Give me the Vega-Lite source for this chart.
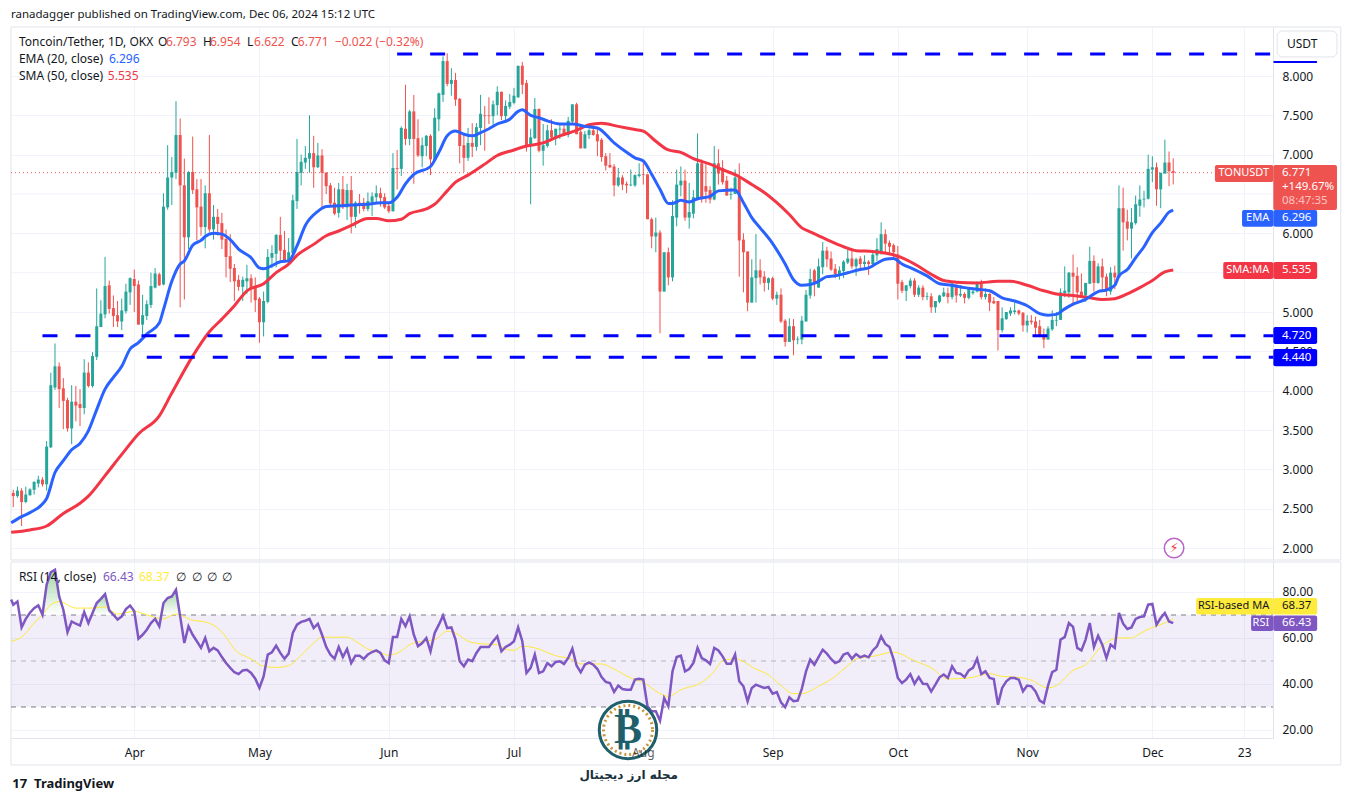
{
  "$schema": "https://vega.github.io/schema/vega-lite/v6.json",
  "background": "#ffffff",
  "padding": {"left": 5, "top": 9, "right": 0, "bottom": 0},
  "spacing": 0,
  "title": {"text": "ranadagger published on TradingView.com, Dec 06, 2024 15:12 UTC", "anchor": "start", "frame": "group", "fontSize": 11.5, "fontWeight": "normal", "color": "#131722", "offset": 6},
  "config": {"font": "Noto Sans", "view": {"stroke": null}},
  "datasets": {
    "candles": [
      {"d":"2024-03-03","o":2.70,"h":2.74,"l":2.52,"c":2.66},
      {"d":"2024-03-04","o":2.66,"h":2.78,"l":2.64,"c":2.73},
      {"d":"2024-03-05","o":2.73,"h":2.76,"l":2.28,"c":2.585},
      {"d":"2024-03-06","o":2.585,"h":2.78,"l":2.57,"c":2.68},
      {"d":"2024-03-07","o":2.67,"h":2.76,"l":2.67,"c":2.745},
      {"d":"2024-03-08","o":2.74,"h":2.85,"l":2.68,"c":2.84},
      {"d":"2024-03-09","o":2.82,"h":2.92,"l":2.77,"c":2.87},
      {"d":"2024-03-10","o":2.87,"h":2.90,"l":2.78,"c":2.81},
      {"d":"2024-03-11","o":2.81,"h":3.36,"l":2.73,"c":3.29},
      {"d":"2024-03-12","o":3.28,"h":4.23,"l":3.27,"c":4.07},
      {"d":"2024-03-13","o":4.04,"h":4.60,"l":4.01,"c":4.31},
      {"d":"2024-03-14","o":4.31,"h":4.36,"l":3.78,"c":4.02},
      {"d":"2024-03-15","o":4.03,"h":4.16,"l":3.51,"c":3.87},
      {"d":"2024-03-16","o":3.88,"h":3.91,"l":3.48,"c":3.52},
      {"d":"2024-03-17","o":3.52,"h":4.07,"l":3.32,"c":3.86},
      {"d":"2024-03-18","o":3.86,"h":4.06,"l":3.61,"c":3.81},
      {"d":"2024-03-19","o":3.83,"h":4.02,"l":3.55,"c":3.78},
      {"d":"2024-03-20","o":3.78,"h":4.40,"l":3.70,"c":4.23},
      {"d":"2024-03-21","o":4.23,"h":4.36,"l":4.04,"c":4.06},
      {"d":"2024-03-22","o":4.06,"h":4.49,"l":4.04,"c":4.44},
      {"d":"2024-03-23","o":4.43,"h":5.30,"l":4.39,"c":4.82},
      {"d":"2024-03-24","o":4.81,"h":5.15,"l":4.81,"c":4.98},
      {"d":"2024-03-25","o":4.97,"h":5.70,"l":4.92,"c":5.33},
      {"d":"2024-03-26","o":5.34,"h":5.40,"l":4.98,"c":5.04},
      {"d":"2024-03-27","o":5.05,"h":5.21,"l":4.81,"c":4.95},
      {"d":"2024-03-28","o":4.96,"h":5.14,"l":4.81,"c":4.88},
      {"d":"2024-03-29","o":4.88,"h":5.17,"l":4.77,"c":5.02},
      {"d":"2024-03-30","o":5.01,"h":5.36,"l":4.98,"c":5.26},
      {"d":"2024-03-31","o":5.25,"h":5.44,"l":5.09,"c":5.43},
      {"d":"2024-04-01","o":5.42,"h":5.54,"l":5.00,"c":5.33},
      {"d":"2024-04-02","o":5.35,"h":5.40,"l":4.84,"c":4.84},
      {"d":"2024-04-03","o":4.84,"h":5.22,"l":4.72,"c":4.96},
      {"d":"2024-04-04","o":4.95,"h":5.15,"l":4.90,"c":5.10},
      {"d":"2024-04-05","o":5.09,"h":5.50,"l":5.05,"c":5.33},
      {"d":"2024-04-06","o":5.31,"h":5.56,"l":5.30,"c":5.49},
      {"d":"2024-04-07","o":5.48,"h":5.50,"l":5.33,"c":5.34},
      {"d":"2024-04-08","o":5.35,"h":6.51,"l":5.34,"c":6.34},
      {"d":"2024-04-09","o":6.33,"h":7.12,"l":6.30,"c":6.71},
      {"d":"2024-04-10","o":6.71,"h":6.97,"l":6.36,"c":6.78},
      {"d":"2024-04-11","o":6.77,"h":7.68,"l":6.69,"c":7.25},
      {"d":"2024-04-12","o":7.25,"h":7.46,"l":5.06,"c":6.61},
      {"d":"2024-04-13","o":6.61,"h":6.95,"l":5.16,"c":5.95},
      {"d":"2024-04-14","o":5.95,"h":6.79,"l":5.80,"c":6.78},
      {"d":"2024-04-15","o":6.78,"h":7.23,"l":6.50,"c":6.55},
      {"d":"2024-04-16","o":6.56,"h":6.69,"l":5.91,"c":6.33},
      {"d":"2024-04-17","o":6.34,"h":6.69,"l":5.97,"c":6.08},
      {"d":"2024-04-18","o":6.08,"h":6.61,"l":5.81,"c":6.51},
      {"d":"2024-04-19","o":6.51,"h":7.25,"l":6.02,"c":6.05},
      {"d":"2024-04-20","o":6.05,"h":6.36,"l":5.92,"c":6.21},
      {"d":"2024-04-21","o":6.21,"h":6.31,"l":5.97,"c":6.12},
      {"d":"2024-04-22","o":6.13,"h":6.26,"l":5.80,"c":5.92},
      {"d":"2024-04-23","o":5.93,"h":6.05,"l":5.44,"c":5.70},
      {"d":"2024-04-24","o":5.71,"h":5.99,"l":5.38,"c":5.55},
      {"d":"2024-04-25","o":5.56,"h":5.61,"l":5.14,"c":5.39},
      {"d":"2024-04-26","o":5.41,"h":5.47,"l":5.27,"c":5.32},
      {"d":"2024-04-27","o":5.32,"h":5.45,"l":5.14,"c":5.41},
      {"d":"2024-04-28","o":5.39,"h":5.60,"l":5.23,"c":5.43},
      {"d":"2024-04-29","o":5.43,"h":5.48,"l":5.12,"c":5.29},
      {"d":"2024-04-30","o":5.32,"h":5.44,"l":5.00,"c":5.15},
      {"d":"2024-05-01","o":5.17,"h":5.19,"l":4.61,"c":4.87},
      {"d":"2024-05-02","o":4.87,"h":5.26,"l":4.69,"c":5.14},
      {"d":"2024-05-03","o":5.13,"h":5.80,"l":5.11,"c":5.70},
      {"d":"2024-05-04","o":5.69,"h":5.85,"l":5.56,"c":5.75},
      {"d":"2024-05-05","o":5.74,"h":5.99,"l":5.57,"c":5.98},
      {"d":"2024-05-06","o":5.98,"h":6.21,"l":5.65,"c":5.78},
      {"d":"2024-05-07","o":5.79,"h":6.03,"l":5.63,"c":5.65},
      {"d":"2024-05-08","o":5.65,"h":5.94,"l":5.62,"c":5.76},
      {"d":"2024-05-09","o":5.75,"h":6.49,"l":5.72,"c":6.42},
      {"d":"2024-05-10","o":6.41,"h":7.20,"l":6.31,"c":6.78},
      {"d":"2024-05-11","o":6.77,"h":7.00,"l":6.61,"c":6.91},
      {"d":"2024-05-12","o":6.90,"h":7.11,"l":6.82,"c":6.96},
      {"d":"2024-05-13","o":6.95,"h":7.50,"l":6.77,"c":7.02},
      {"d":"2024-05-14","o":7.02,"h":7.24,"l":6.58,"c":6.84},
      {"d":"2024-05-15","o":6.84,"h":7.15,"l":6.83,"c":6.99},
      {"d":"2024-05-16","o":6.99,"h":7.07,"l":6.33,"c":6.77},
      {"d":"2024-05-17","o":6.77,"h":6.78,"l":6.50,"c":6.60},
      {"d":"2024-05-18","o":6.61,"h":6.64,"l":6.34,"c":6.38},
      {"d":"2024-05-19","o":6.39,"h":6.58,"l":6.23,"c":6.25},
      {"d":"2024-05-20","o":6.26,"h":6.64,"l":6.20,"c":6.56},
      {"d":"2024-05-21","o":6.56,"h":6.73,"l":6.31,"c":6.33},
      {"d":"2024-05-22","o":6.33,"h":6.63,"l":6.17,"c":6.55},
      {"d":"2024-05-23","o":6.55,"h":6.73,"l":6.00,"c":6.21},
      {"d":"2024-05-24","o":6.21,"h":6.41,"l":6.07,"c":6.39},
      {"d":"2024-05-25","o":6.39,"h":6.50,"l":6.25,"c":6.36},
      {"d":"2024-05-26","o":6.39,"h":6.45,"l":6.28,"c":6.31},
      {"d":"2024-05-27","o":6.31,"h":6.52,"l":6.28,"c":6.41},
      {"d":"2024-05-28","o":6.40,"h":6.52,"l":6.22,"c":6.47},
      {"d":"2024-05-29","o":6.46,"h":6.61,"l":6.39,"c":6.51},
      {"d":"2024-05-30","o":6.51,"h":6.58,"l":6.34,"c":6.45},
      {"d":"2024-05-31","o":6.46,"h":6.51,"l":6.31,"c":6.33},
      {"d":"2024-06-01","o":6.35,"h":6.39,"l":6.26,"c":6.28},
      {"d":"2024-06-02","o":6.28,"h":7.02,"l":6.28,"c":6.83},
      {"d":"2024-06-03","o":6.83,"h":7.06,"l":6.56,"c":6.82},
      {"d":"2024-06-04","o":6.82,"h":7.36,"l":6.73,"c":7.34},
      {"d":"2024-06-05","o":7.33,"h":7.89,"l":7.12,"c":7.20},
      {"d":"2024-06-06","o":7.20,"h":7.57,"l":7.12,"c":7.55},
      {"d":"2024-06-07","o":7.55,"h":7.76,"l":6.63,"c":7.20},
      {"d":"2024-06-08","o":7.21,"h":7.45,"l":6.97,"c":6.99},
      {"d":"2024-06-09","o":6.98,"h":7.22,"l":6.84,"c":7.12},
      {"d":"2024-06-10","o":7.11,"h":7.25,"l":6.98,"c":7.24},
      {"d":"2024-06-11","o":7.24,"h":7.26,"l":6.74,"c":6.94},
      {"d":"2024-06-12","o":6.93,"h":7.59,"l":6.91,"c":7.47},
      {"d":"2024-06-13","o":7.45,"h":7.79,"l":7.30,"c":7.78},
      {"d":"2024-06-14","o":7.76,"h":8.25,"l":7.67,"c":8.19},
      {"d":"2024-06-15","o":8.19,"h":8.29,"l":7.87,"c":7.90},
      {"d":"2024-06-16","o":7.90,"h":8.10,"l":7.75,"c":7.95},
      {"d":"2024-06-17","o":7.95,"h":8.04,"l":7.62,"c":7.70},
      {"d":"2024-06-18","o":7.71,"h":7.72,"l":6.89,"c":7.11},
      {"d":"2024-06-19","o":7.12,"h":7.26,"l":6.78,"c":6.96},
      {"d":"2024-06-20","o":6.96,"h":7.34,"l":6.92,"c":7.15},
      {"d":"2024-06-21","o":7.15,"h":7.40,"l":6.97,"c":7.10},
      {"d":"2024-06-22","o":7.10,"h":7.40,"l":7.05,"c":7.35},
      {"d":"2024-06-23","o":7.34,"h":7.76,"l":7.12,"c":7.52},
      {"d":"2024-06-24","o":7.50,"h":7.62,"l":7.05,"c":7.49},
      {"d":"2024-06-25","o":7.50,"h":7.73,"l":7.39,"c":7.49},
      {"d":"2024-06-26","o":7.49,"h":7.69,"l":7.38,"c":7.64},
      {"d":"2024-06-27","o":7.63,"h":7.87,"l":7.50,"c":7.80},
      {"d":"2024-06-28","o":7.80,"h":7.80,"l":7.44,"c":7.49},
      {"d":"2024-06-29","o":7.49,"h":7.69,"l":7.44,"c":7.62},
      {"d":"2024-06-30","o":7.61,"h":7.77,"l":7.58,"c":7.67},
      {"d":"2024-07-01","o":7.66,"h":7.85,"l":7.64,"c":7.75},
      {"d":"2024-07-02","o":7.73,"h":8.13,"l":7.72,"c":8.13},
      {"d":"2024-07-03","o":8.13,"h":8.18,"l":7.77,"c":7.89},
      {"d":"2024-07-04","o":7.91,"h":7.95,"l":7.04,"c":7.11},
      {"d":"2024-07-05","o":7.11,"h":7.33,"l":6.37,"c":7.22},
      {"d":"2024-07-06","o":7.21,"h":7.72,"l":7.20,"c":7.58},
      {"d":"2024-07-07","o":7.58,"h":7.59,"l":7.03,"c":7.05},
      {"d":"2024-07-08","o":7.05,"h":7.39,"l":6.86,"c":7.12},
      {"d":"2024-07-09","o":7.11,"h":7.38,"l":7.09,"c":7.31},
      {"d":"2024-07-10","o":7.31,"h":7.45,"l":7.20,"c":7.22},
      {"d":"2024-07-11","o":7.21,"h":7.33,"l":7.12,"c":7.33},
      {"d":"2024-07-12","o":7.32,"h":7.40,"l":7.20,"c":7.33},
      {"d":"2024-07-13","o":7.33,"h":7.38,"l":7.24,"c":7.26},
      {"d":"2024-07-14","o":7.25,"h":7.48,"l":7.22,"c":7.43},
      {"d":"2024-07-15","o":7.42,"h":7.64,"l":7.40,"c":7.64},
      {"d":"2024-07-16","o":7.64,"h":7.66,"l":7.26,"c":7.26},
      {"d":"2024-07-17","o":7.29,"h":7.38,"l":7.08,"c":7.08},
      {"d":"2024-07-18","o":7.08,"h":7.30,"l":7.08,"c":7.26},
      {"d":"2024-07-19","o":7.25,"h":7.33,"l":7.20,"c":7.31},
      {"d":"2024-07-20","o":7.31,"h":7.36,"l":7.24,"c":7.25},
      {"d":"2024-07-21","o":7.26,"h":7.33,"l":6.98,"c":7.17},
      {"d":"2024-07-22","o":7.19,"h":7.21,"l":6.91,"c":6.97},
      {"d":"2024-07-23","o":6.98,"h":7.02,"l":6.80,"c":6.86},
      {"d":"2024-07-24","o":6.87,"h":7.02,"l":6.83,"c":6.84},
      {"d":"2024-07-25","o":6.85,"h":6.88,"l":6.47,"c":6.61},
      {"d":"2024-07-26","o":6.61,"h":6.83,"l":6.59,"c":6.71},
      {"d":"2024-07-27","o":6.71,"h":6.74,"l":6.55,"c":6.62},
      {"d":"2024-07-28","o":6.63,"h":6.66,"l":6.51,"c":6.61},
      {"d":"2024-07-29","o":6.61,"h":6.81,"l":6.60,"c":6.62},
      {"d":"2024-07-30","o":6.61,"h":6.75,"l":6.59,"c":6.74},
      {"d":"2024-07-31","o":6.73,"h":6.89,"l":6.71,"c":6.75},
      {"d":"2024-08-01","o":6.75,"h":6.90,"l":6.62,"c":6.74},
      {"d":"2024-08-02","o":6.75,"h":6.75,"l":6.18,"c":6.18},
      {"d":"2024-08-03","o":6.18,"h":6.20,"l":5.81,"c":5.96},
      {"d":"2024-08-04","o":5.96,"h":6.20,"l":5.76,"c":6.01},
      {"d":"2024-08-05","o":6.01,"h":6.04,"l":4.73,"c":5.26},
      {"d":"2024-08-06","o":5.26,"h":5.76,"l":5.26,"c":5.76},
      {"d":"2024-08-07","o":5.76,"h":5.82,"l":5.34,"c":5.44},
      {"d":"2024-08-08","o":5.44,"h":6.42,"l":5.39,"c":6.22},
      {"d":"2024-08-09","o":6.20,"h":6.81,"l":6.09,"c":6.62},
      {"d":"2024-08-10","o":6.61,"h":6.85,"l":6.47,"c":6.67},
      {"d":"2024-08-11","o":6.67,"h":6.81,"l":6.16,"c":6.20},
      {"d":"2024-08-12","o":6.20,"h":6.64,"l":6.06,"c":6.27},
      {"d":"2024-08-13","o":6.25,"h":6.55,"l":6.19,"c":6.46},
      {"d":"2024-08-14","o":6.45,"h":7.27,"l":6.42,"c":6.89},
      {"d":"2024-08-15","o":6.89,"h":6.94,"l":6.39,"c":6.46},
      {"d":"2024-08-16","o":6.60,"h":6.89,"l":6.39,"c":6.53},
      {"d":"2024-08-17","o":6.55,"h":6.60,"l":6.38,"c":6.43},
      {"d":"2024-08-18","o":6.43,"h":7.11,"l":6.42,"c":6.89},
      {"d":"2024-08-19","o":6.89,"h":7.07,"l":6.62,"c":6.76},
      {"d":"2024-08-20","o":6.83,"h":6.93,"l":6.62,"c":6.65},
      {"d":"2024-08-21","o":6.67,"h":6.73,"l":6.48,"c":6.48},
      {"d":"2024-08-22","o":6.49,"h":6.58,"l":6.43,"c":6.50},
      {"d":"2024-08-23","o":6.50,"h":6.81,"l":6.50,"c":6.71},
      {"d":"2024-08-24","o":6.71,"h":6.89,"l":5.45,"c":5.91},
      {"d":"2024-08-25","o":5.92,"h":6.00,"l":5.25,"c":5.76},
      {"d":"2024-08-26","o":5.77,"h":5.77,"l":5.01,"c":5.12},
      {"d":"2024-08-27","o":5.12,"h":5.67,"l":5.12,"c":5.44},
      {"d":"2024-08-28","o":5.43,"h":5.99,"l":5.12,"c":5.53},
      {"d":"2024-08-29","o":5.53,"h":5.67,"l":5.35,"c":5.44},
      {"d":"2024-08-30","o":5.45,"h":5.52,"l":5.26,"c":5.37},
      {"d":"2024-08-31","o":5.37,"h":5.44,"l":5.28,"c":5.43},
      {"d":"2024-09-01","o":5.43,"h":5.45,"l":5.15,"c":5.17},
      {"d":"2024-09-02","o":5.17,"h":5.26,"l":5.09,"c":5.22},
      {"d":"2024-09-03","o":5.22,"h":5.30,"l":4.86,"c":4.88},
      {"d":"2024-09-04","o":4.89,"h":4.91,"l":4.56,"c":4.62},
      {"d":"2024-09-05","o":4.62,"h":4.92,"l":4.62,"c":4.82},
      {"d":"2024-09-06","o":4.82,"h":4.91,"l":4.45,"c":4.64},
      {"d":"2024-09-07","o":4.65,"h":4.69,"l":4.59,"c":4.66},
      {"d":"2024-09-08","o":4.65,"h":4.95,"l":4.59,"c":4.89},
      {"d":"2024-09-09","o":4.88,"h":5.28,"l":4.88,"c":5.22},
      {"d":"2024-09-10","o":5.21,"h":5.55,"l":5.17,"c":5.42},
      {"d":"2024-09-11","o":5.53,"h":5.55,"l":5.20,"c":5.38},
      {"d":"2024-09-12","o":5.31,"h":5.68,"l":5.31,"c":5.58},
      {"d":"2024-09-13","o":5.57,"h":5.89,"l":5.48,"c":5.78},
      {"d":"2024-09-14","o":5.78,"h":5.83,"l":5.57,"c":5.67},
      {"d":"2024-09-15","o":5.68,"h":5.77,"l":5.52,"c":5.54},
      {"d":"2024-09-16","o":5.55,"h":5.61,"l":5.43,"c":5.48},
      {"d":"2024-09-17","o":5.47,"h":5.58,"l":5.41,"c":5.53},
      {"d":"2024-09-18","o":5.52,"h":5.66,"l":5.43,"c":5.64},
      {"d":"2024-09-19","o":5.63,"h":5.82,"l":5.61,"c":5.68},
      {"d":"2024-09-20","o":5.68,"h":5.80,"l":5.55,"c":5.58},
      {"d":"2024-09-21","o":5.58,"h":5.69,"l":5.46,"c":5.67},
      {"d":"2024-09-22","o":5.68,"h":5.71,"l":5.52,"c":5.61},
      {"d":"2024-09-23","o":5.61,"h":5.72,"l":5.55,"c":5.64},
      {"d":"2024-09-24","o":5.64,"h":5.66,"l":5.47,"c":5.61},
      {"d":"2024-09-25","o":5.61,"h":5.78,"l":5.57,"c":5.73},
      {"d":"2024-09-26","o":5.72,"h":5.94,"l":5.65,"c":5.80},
      {"d":"2024-09-27","o":5.75,"h":6.14,"l":5.73,"c":5.99},
      {"d":"2024-09-28","o":5.99,"h":6.05,"l":5.73,"c":5.87},
      {"d":"2024-09-29","o":5.88,"h":5.91,"l":5.73,"c":5.83},
      {"d":"2024-09-30","o":5.85,"h":5.87,"l":5.67,"c":5.76},
      {"d":"2024-10-01","o":5.73,"h":5.84,"l":5.16,"c":5.36},
      {"d":"2024-10-02","o":5.38,"h":5.41,"l":5.24,"c":5.27},
      {"d":"2024-10-03","o":5.27,"h":5.34,"l":5.14,"c":5.34},
      {"d":"2024-10-04","o":5.33,"h":5.43,"l":5.30,"c":5.40},
      {"d":"2024-10-05","o":5.40,"h":5.43,"l":5.19,"c":5.22},
      {"d":"2024-10-06","o":5.22,"h":5.34,"l":5.19,"c":5.31},
      {"d":"2024-10-07","o":5.31,"h":5.34,"l":5.15,"c":5.19},
      {"d":"2024-10-08","o":5.19,"h":5.25,"l":5.15,"c":5.20},
      {"d":"2024-10-09","o":5.20,"h":5.24,"l":4.99,"c":5.06},
      {"d":"2024-10-10","o":5.06,"h":5.14,"l":4.99,"c":5.14},
      {"d":"2024-10-11","o":5.13,"h":5.22,"l":5.11,"c":5.21},
      {"d":"2024-10-12","o":5.20,"h":5.31,"l":5.19,"c":5.25},
      {"d":"2024-10-13","o":5.24,"h":5.31,"l":5.11,"c":5.19},
      {"d":"2024-10-14","o":5.19,"h":5.39,"l":5.16,"c":5.36},
      {"d":"2024-10-15","o":5.33,"h":5.35,"l":5.12,"c":5.21},
      {"d":"2024-10-16","o":5.21,"h":5.34,"l":5.19,"c":5.23},
      {"d":"2024-10-17","o":5.23,"h":5.25,"l":5.11,"c":5.18},
      {"d":"2024-10-18","o":5.18,"h":5.31,"l":5.16,"c":5.30},
      {"d":"2024-10-19","o":5.24,"h":5.29,"l":5.22,"c":5.26},
      {"d":"2024-10-20","o":5.26,"h":5.39,"l":5.25,"c":5.36},
      {"d":"2024-10-21","o":5.36,"h":5.41,"l":5.16,"c":5.19},
      {"d":"2024-10-22","o":5.19,"h":5.30,"l":5.16,"c":5.23},
      {"d":"2024-10-23","o":5.23,"h":5.24,"l":5.01,"c":5.12},
      {"d":"2024-10-24","o":5.14,"h":5.19,"l":5.10,"c":5.11},
      {"d":"2024-10-25","o":5.14,"h":5.14,"l":4.51,"c":4.77},
      {"d":"2024-10-26","o":4.77,"h":5.06,"l":4.74,"c":4.92},
      {"d":"2024-10-27","o":4.91,"h":5.00,"l":4.90,"c":5.00},
      {"d":"2024-10-28","o":4.98,"h":5.06,"l":4.95,"c":5.02},
      {"d":"2024-10-29","o":5.00,"h":5.12,"l":4.97,"c":5.02},
      {"d":"2024-10-30","o":5.02,"h":5.03,"l":4.96,"c":4.98},
      {"d":"2024-10-31","o":4.99,"h":5.00,"l":4.75,"c":4.83},
      {"d":"2024-11-01","o":4.83,"h":4.96,"l":4.74,"c":4.89},
      {"d":"2024-11-02","o":4.89,"h":4.96,"l":4.84,"c":4.87},
      {"d":"2024-11-03","o":4.88,"h":4.94,"l":4.68,"c":4.80},
      {"d":"2024-11-04","o":4.82,"h":4.90,"l":4.68,"c":4.69},
      {"d":"2024-11-05","o":4.70,"h":4.79,"l":4.54,"c":4.65},
      {"d":"2024-11-06","o":4.65,"h":4.82,"l":4.65,"c":4.79},
      {"d":"2024-11-07","o":4.78,"h":5.02,"l":4.76,"c":4.90},
      {"d":"2024-11-08","o":4.89,"h":5.00,"l":4.82,"c":4.90},
      {"d":"2024-11-09","o":4.90,"h":5.30,"l":4.90,"c":5.25},
      {"d":"2024-11-10","o":5.24,"h":5.58,"l":5.19,"c":5.27},
      {"d":"2024-11-11","o":5.25,"h":5.51,"l":5.18,"c":5.50},
      {"d":"2024-11-12","o":5.50,"h":5.73,"l":5.08,"c":5.45},
      {"d":"2024-11-13","o":5.46,"h":5.57,"l":5.12,"c":5.25},
      {"d":"2024-11-14","o":5.26,"h":5.49,"l":5.18,"c":5.21},
      {"d":"2024-11-15","o":5.21,"h":5.37,"l":5.13,"c":5.37},
      {"d":"2024-11-16","o":5.36,"h":5.83,"l":5.36,"c":5.65},
      {"d":"2024-11-17","o":5.65,"h":5.72,"l":5.26,"c":5.37},
      {"d":"2024-11-18","o":5.37,"h":5.62,"l":5.36,"c":5.58},
      {"d":"2024-11-19","o":5.58,"h":5.68,"l":5.28,"c":5.44},
      {"d":"2024-11-20","o":5.45,"h":5.49,"l":5.20,"c":5.27},
      {"d":"2024-11-21","o":5.26,"h":5.57,"l":5.22,"c":5.50},
      {"d":"2024-11-22","o":5.50,"h":5.59,"l":5.29,"c":5.44},
      {"d":"2024-11-23","o":5.44,"h":6.61,"l":5.44,"c":6.32},
      {"d":"2024-11-24","o":6.32,"h":6.58,"l":5.78,"c":6.14},
      {"d":"2024-11-25","o":6.15,"h":6.30,"l":5.91,"c":6.06},
      {"d":"2024-11-26","o":6.06,"h":6.32,"l":5.68,"c":6.14},
      {"d":"2024-11-27","o":6.13,"h":6.48,"l":6.11,"c":6.37},
      {"d":"2024-11-28","o":6.35,"h":6.61,"l":6.21,"c":6.43},
      {"d":"2024-11-29","o":6.43,"h":6.54,"l":6.33,"c":6.44},
      {"d":"2024-11-30","o":6.44,"h":7.00,"l":6.43,"c":6.82},
      {"d":"2024-12-01","o":6.81,"h":6.98,"l":6.65,"c":6.84},
      {"d":"2024-12-02","o":6.84,"h":6.90,"l":6.35,"c":6.56},
      {"d":"2024-12-03","o":6.56,"h":6.77,"l":6.32,"c":6.77},
      {"d":"2024-12-04","o":6.76,"h":7.19,"l":6.76,"c":6.90},
      {"d":"2024-12-05","o":6.90,"h":7.04,"l":6.60,"c":6.79},
      {"d":"2024-12-06","o":6.793,"h":6.954,"l":6.622,"c":6.771}
    ],
    "ema": [
      {"d":"2024-03-02T12:00:00Z","v":2.32},{"d":"2024-03-05","v":2.40},{"d":"2024-03-07","v":2.45},{"d":"2024-03-10","v":2.56},{"d":"2024-03-11","v":2.63},{"d":"2024-03-13","v":2.96},{"d":"2024-03-15","v":3.11},{"d":"2024-03-17","v":3.25},{"d":"2024-03-19","v":3.33},{"d":"2024-03-21","v":3.49},{"d":"2024-03-23","v":3.76},{"d":"2024-03-25","v":4.02},{"d":"2024-03-27","v":4.17},{"d":"2024-03-29","v":4.31},{"d":"2024-03-31","v":4.53},{"d":"2024-04-02","v":4.61},{"d":"2024-04-04","v":4.72},{"d":"2024-04-07","v":4.86},{"d":"2024-04-08","v":5.03},{"d":"2024-04-10","v":5.39},{"d":"2024-04-12","v":5.61},{"d":"2024-04-13","v":5.65},{"d":"2024-04-15","v":5.85},{"d":"2024-04-17","v":5.91},{"d":"2024-04-18","v":5.96},{"d":"2024-04-20","v":6.00},{"d":"2024-04-22","v":5.99},{"d":"2024-04-24","v":5.92},{"d":"2024-04-26","v":5.80},{"d":"2024-04-29","v":5.69},{"d":"2024-05-01","v":5.56},{"d":"2024-05-02","v":5.55},{"d":"2024-05-04","v":5.59},{"d":"2024-05-06","v":5.64},{"d":"2024-05-08","v":5.65},{"d":"2024-05-10","v":5.84},{"d":"2024-05-12","v":6.10},{"d":"2024-05-15","v":6.28},{"d":"2024-05-17","v":6.34},{"d":"2024-05-20","v":6.35},{"d":"2024-05-23","v":6.36},{"d":"2024-05-27","v":6.37},{"d":"2024-05-30","v":6.39},{"d":"2024-06-01","v":6.39},{"d":"2024-06-03","v":6.46},{"d":"2024-06-05","v":6.63},{"d":"2024-06-07","v":6.75},{"d":"2024-06-11","v":6.85},{"d":"2024-06-13","v":7.03},{"d":"2024-06-15","v":7.24},{"d":"2024-06-17","v":7.30},{"d":"2024-06-19","v":7.26},{"d":"2024-06-21","v":7.24},{"d":"2024-06-23","v":7.28},{"d":"2024-06-25","v":7.33},{"d":"2024-06-27","v":7.39},{"d":"2024-06-30","v":7.45},{"d":"2024-07-02","v":7.55},{"d":"2024-07-03","v":7.57},{"d":"2024-07-05","v":7.50},{"d":"2024-07-07","v":7.47},{"d":"2024-07-09","v":7.43},{"d":"2024-07-12","v":7.39},{"d":"2024-07-15","v":7.39},{"d":"2024-07-18","v":7.36},{"d":"2024-07-21","v":7.34},{"d":"2024-07-25","v":7.15},{"d":"2024-07-28","v":7.03},{"d":"2024-07-30","v":6.96},{"d":"2024-08-01","v":6.92},{"d":"2024-08-03","v":6.75},{"d":"2024-08-05","v":6.56},{"d":"2024-08-07","v":6.38},{"d":"2024-08-08","v":6.38},{"d":"2024-08-10","v":6.42},{"d":"2024-08-12","v":6.40},{"d":"2024-08-14","v":6.44},{"d":"2024-08-17","v":6.47},{"d":"2024-08-19","v":6.54},{"d":"2024-08-23","v":6.55},{"d":"2024-08-25","v":6.39},{"d":"2024-08-27","v":6.20},{"d":"2024-08-29","v":6.07},{"d":"2024-09-01","v":5.87},{"d":"2024-09-04","v":5.61},{"d":"2024-09-06","v":5.41},{"d":"2024-09-08","v":5.34},{"d":"2024-09-10","v":5.35},{"d":"2024-09-12","v":5.39},{"d":"2024-09-14","v":5.45},{"d":"2024-09-16","v":5.46},{"d":"2024-09-19","v":5.50},{"d":"2024-09-22","v":5.54},{"d":"2024-09-24","v":5.56},{"d":"2024-09-26","v":5.62},{"d":"2024-09-28","v":5.67},{"d":"2024-09-30","v":5.68},{"d":"2024-10-02","v":5.61},{"d":"2024-10-05","v":5.54},{"d":"2024-10-08","v":5.46},{"d":"2024-10-11","v":5.36},{"d":"2024-10-14","v":5.34},{"d":"2024-10-17","v":5.31},{"d":"2024-10-20","v":5.29},{"d":"2024-10-23","v":5.27},{"d":"2024-10-26","v":5.18},{"d":"2024-10-29","v":5.14},{"d":"2024-11-01","v":5.08},{"d":"2024-11-04","v":4.98},{"d":"2024-11-06","v":4.96},{"d":"2024-11-08","v":4.97},{"d":"2024-11-10","v":5.04},{"d":"2024-11-12","v":5.10},{"d":"2024-11-15","v":5.16},{"d":"2024-11-18","v":5.26},{"d":"2024-11-20","v":5.28},{"d":"2024-11-22","v":5.34},{"d":"2024-11-23","v":5.46},{"d":"2024-11-25","v":5.54},{"d":"2024-11-27","v":5.69},{"d":"2024-11-29","v":5.83},{"d":"2024-12-01","v":6.01},{"d":"2024-12-03","v":6.13},{"d":"2024-12-05","v":6.27},{"d":"2024-12-06","v":6.296}
    ],
    "sma": [
      {"d":"2024-03-02T12:00:00Z","v":2.20},{"d":"2024-03-07","v":2.23},{"d":"2024-03-11","v":2.28},{"d":"2024-03-15","v":2.44},{"d":"2024-03-19","v":2.57},{"d":"2024-03-21","v":2.66},{"d":"2024-03-25","v":2.92},{"d":"2024-03-29","v":3.19},{"d":"2024-04-02","v":3.45},{"d":"2024-04-07","v":3.68},{"d":"2024-04-10","v":3.97},{"d":"2024-04-15","v":4.44},{"d":"2024-04-19","v":4.75},{"d":"2024-04-22","v":4.91},{"d":"2024-04-25","v":5.08},{"d":"2024-04-28","v":5.27},{"d":"2024-05-02","v":5.36},{"d":"2024-05-05","v":5.50},{"d":"2024-05-08","v":5.61},{"d":"2024-05-10","v":5.72},{"d":"2024-05-14","v":5.86},{"d":"2024-05-17","v":5.97},{"d":"2024-05-20","v":6.03},{"d":"2024-05-23","v":6.10},{"d":"2024-05-27","v":6.19},{"d":"2024-05-29","v":6.19},{"d":"2024-06-01","v":6.16},{"d":"2024-06-04","v":6.18},{"d":"2024-06-06","v":6.25},{"d":"2024-06-10","v":6.31},{"d":"2024-06-12","v":6.37},{"d":"2024-06-15","v":6.54},{"d":"2024-06-17","v":6.65},{"d":"2024-06-20","v":6.74},{"d":"2024-06-24","v":6.88},{"d":"2024-06-27","v":6.99},{"d":"2024-07-01","v":7.06},{"d":"2024-07-04","v":7.11},{"d":"2024-07-08","v":7.15},{"d":"2024-07-12","v":7.24},{"d":"2024-07-16","v":7.31},{"d":"2024-07-19","v":7.38},{"d":"2024-07-22","v":7.40},{"d":"2024-07-26","v":7.36},{"d":"2024-07-30","v":7.32},{"d":"2024-08-01","v":7.30},{"d":"2024-08-04","v":7.17},{"d":"2024-08-07","v":7.06},{"d":"2024-08-10","v":7.03},{"d":"2024-08-13","v":6.95},{"d":"2024-08-17","v":6.88},{"d":"2024-08-20","v":6.81},{"d":"2024-08-24","v":6.72},{"d":"2024-08-27","v":6.62},{"d":"2024-08-30","v":6.52},{"d":"2024-09-02","v":6.39},{"d":"2024-09-05","v":6.24},{"d":"2024-09-08","v":6.07},{"d":"2024-09-10","v":6.02},{"d":"2024-09-14","v":5.92},{"d":"2024-09-18","v":5.83},{"d":"2024-09-21","v":5.78},{"d":"2024-09-25","v":5.77},{"d":"2024-09-28","v":5.75},{"d":"2024-10-01","v":5.71},{"d":"2024-10-05","v":5.61},{"d":"2024-10-09","v":5.48},{"d":"2024-10-12","v":5.40},{"d":"2024-10-15","v":5.38},{"d":"2024-10-20","v":5.37},{"d":"2024-10-25","v":5.39},{"d":"2024-10-28","v":5.39},{"d":"2024-11-01","v":5.34},{"d":"2024-11-05","v":5.27},{"d":"2024-11-08","v":5.23},{"d":"2024-11-12","v":5.21},{"d":"2024-11-16","v":5.18},{"d":"2024-11-19","v":5.16},{"d":"2024-11-22","v":5.17},{"d":"2024-11-25","v":5.23},{"d":"2024-11-28","v":5.31},{"d":"2024-12-01","v":5.40},{"d":"2024-12-04","v":5.51},{"d":"2024-12-06","v":5.535}
    ],
    "rsi": [
      {"d":"2024-03-02T12:00:00Z","v":76.7},{"d":"2024-03-03","v":74.5},{"d":"2024-03-04","v":75.9},{"d":"2024-03-05","v":64.6},{"d":"2024-03-06","v":68.3},{"d":"2024-03-07","v":71},{"d":"2024-03-08","v":73},{"d":"2024-03-09","v":74.2},{"d":"2024-03-10","v":70.1},{"d":"2024-03-11","v":83.2},{"d":"2024-03-12","v":88.6},{"d":"2024-03-13","v":89.7},{"d":"2024-03-14","v":78.1},{"d":"2024-03-15","v":72.3},{"d":"2024-03-16","v":62.5},{"d":"2024-03-17","v":67.2},{"d":"2024-03-18","v":66.2},{"d":"2024-03-19","v":65.4},{"d":"2024-03-20","v":71.3},{"d":"2024-03-21","v":66.5},{"d":"2024-03-22","v":70.9},{"d":"2024-03-23","v":75.2},{"d":"2024-03-24","v":77},{"d":"2024-03-25","v":79.1},{"d":"2024-03-26","v":72},{"d":"2024-03-27","v":70.1},{"d":"2024-03-28","v":68},{"d":"2024-03-29","v":69.4},{"d":"2024-03-30","v":72.6},{"d":"2024-03-31","v":74.1},
      {"d":"2024-04-01","v":71.6},{"d":"2024-04-02","v":59.7},{"d":"2024-04-03","v":61.4},{"d":"2024-04-04","v":63.6},{"d":"2024-04-05","v":66.5},{"d":"2024-04-06","v":68.3},{"d":"2024-04-07","v":65.1},{"d":"2024-04-08","v":75.2},{"d":"2024-04-09","v":77.4},{"d":"2024-04-10","v":78.1},{"d":"2024-04-11","v":81},{"d":"2024-04-12","v":69.4},{"d":"2024-04-13","v":57.8},{"d":"2024-04-14","v":65.1},{"d":"2024-04-15","v":61.4},{"d":"2024-04-16","v":58.6},{"d":"2024-04-17","v":55.7},{"d":"2024-04-18","v":60},{"d":"2024-04-19","v":54.2},{"d":"2024-04-20","v":55.7},{"d":"2024-04-21","v":54.6},{"d":"2024-04-22","v":51.7},{"d":"2024-04-23","v":49.1},{"d":"2024-04-24","v":47},{"d":"2024-04-25","v":45.1},{"d":"2024-04-26","v":44.3},{"d":"2024-04-27","v":45.9},{"d":"2024-04-28","v":46.2},{"d":"2024-04-29","v":44.8},{"d":"2024-04-30","v":42.3},
      {"d":"2024-05-01","v":38.3},{"d":"2024-05-02","v":43.3},{"d":"2024-05-03","v":52.8},{"d":"2024-05-04","v":53.8},{"d":"2024-05-05","v":56.7},{"d":"2024-05-06","v":53.5},{"d":"2024-05-07","v":51},{"d":"2024-05-08","v":53.2},{"d":"2024-05-09","v":62.2},{"d":"2024-05-10","v":65.8},{"d":"2024-05-11","v":67},{"d":"2024-05-12","v":67.5},{"d":"2024-05-13","v":68.3},{"d":"2024-05-14","v":64.3},{"d":"2024-05-15","v":66.2},{"d":"2024-05-16","v":61.4},{"d":"2024-05-17","v":56.1},{"d":"2024-05-18","v":52.8},{"d":"2024-05-19","v":51},{"d":"2024-05-20","v":56.1},{"d":"2024-05-21","v":51.7},{"d":"2024-05-22","v":55.2},{"d":"2024-05-23","v":49.1},{"d":"2024-05-24","v":52.3},{"d":"2024-05-25","v":52.3},{"d":"2024-05-26","v":50.9},{"d":"2024-05-27","v":52.8},{"d":"2024-05-28","v":53.9},{"d":"2024-05-29","v":54.6},{"d":"2024-05-30","v":53.5},{"d":"2024-05-31","v":50.3},
      {"d":"2024-06-01","v":49.1},{"d":"2024-06-02","v":60.4},{"d":"2024-06-03","v":60.4},{"d":"2024-06-04","v":68.3},{"d":"2024-06-05","v":65.1},{"d":"2024-06-06","v":69.4},{"d":"2024-06-07","v":61.4},{"d":"2024-06-08","v":56.4},{"d":"2024-06-09","v":57.8},{"d":"2024-06-10","v":60},{"d":"2024-06-11","v":54.2},{"d":"2024-06-12","v":62.2},{"d":"2024-06-13","v":65.8},{"d":"2024-06-14","v":69.7},{"d":"2024-06-15","v":64.3},{"d":"2024-06-16","v":64.6},{"d":"2024-06-17","v":59.3},{"d":"2024-06-18","v":49.9},{"d":"2024-06-19","v":47.7},{"d":"2024-06-20","v":50.6},{"d":"2024-06-21","v":49.9},{"d":"2024-06-22","v":53.5},{"d":"2024-06-23","v":56.1},{"d":"2024-06-24","v":56.1},{"d":"2024-06-25","v":56.1},{"d":"2024-06-26","v":58.6},{"d":"2024-06-27","v":60.7},{"d":"2024-06-28","v":54.2},{"d":"2024-06-29","v":56.1},{"d":"2024-06-30","v":57.1},
      {"d":"2024-07-01","v":58.6},{"d":"2024-07-02","v":64.6},{"d":"2024-07-03","v":58.6},{"d":"2024-07-04","v":44.8},{"d":"2024-07-05","v":47},{"d":"2024-07-06","v":52.8},{"d":"2024-07-07","v":44.8},{"d":"2024-07-08","v":45.5},{"d":"2024-07-09","v":49.1},{"d":"2024-07-10","v":47.7},{"d":"2024-07-11","v":49.6},{"d":"2024-07-12","v":49.9},{"d":"2024-07-13","v":48.7},{"d":"2024-07-14","v":51.3},{"d":"2024-07-15","v":55.4},{"d":"2024-07-16","v":48},{"d":"2024-07-17","v":45.1},{"d":"2024-07-18","v":48.4},{"d":"2024-07-19","v":49.4},{"d":"2024-07-20","v":48.4},{"d":"2024-07-21","v":46.5},{"d":"2024-07-22","v":43},{"d":"2024-07-23","v":40.9},{"d":"2024-07-24","v":40.4},{"d":"2024-07-25","v":36.5},{"d":"2024-07-26","v":39.3},{"d":"2024-07-27","v":37.8},{"d":"2024-07-28","v":37.5},{"d":"2024-07-29","v":37.5},{"d":"2024-07-30","v":41.9},{"d":"2024-07-31","v":42.3},
      {"d":"2024-08-01","v":41.9},{"d":"2024-08-02","v":30.3},{"d":"2024-08-03","v":28.1},{"d":"2024-08-04","v":28.1},{"d":"2024-08-05","v":24},{"d":"2024-08-06","v":33.9},{"d":"2024-08-07","v":30.3},{"d":"2024-08-08","v":45.5},{"d":"2024-08-09","v":51.7},{"d":"2024-08-10","v":52.3},{"d":"2024-08-11","v":45.5},{"d":"2024-08-12","v":46.5},{"d":"2024-08-13","v":49.1},{"d":"2024-08-14","v":55.7},{"d":"2024-08-15","v":51.3},{"d":"2024-08-16","v":50.3},{"d":"2024-08-17","v":48.7},{"d":"2024-08-18","v":55.7},{"d":"2024-08-19","v":54.6},{"d":"2024-08-20","v":52},{"d":"2024-08-21","v":48.8},{"d":"2024-08-22","v":48.8},{"d":"2024-08-23","v":52.8},{"d":"2024-08-24","v":41.2},{"d":"2024-08-25","v":39},{"d":"2024-08-26","v":32.5},{"d":"2024-08-27","v":38.3},{"d":"2024-08-28","v":39.7},{"d":"2024-08-29","v":39},{"d":"2024-08-30","v":38.3},{"d":"2024-08-31","v":38.7},
      {"d":"2024-09-01","v":35.8},{"d":"2024-09-02","v":36.5},{"d":"2024-09-03","v":32},{"d":"2024-09-04","v":29.9},{"d":"2024-09-05","v":34.2},{"d":"2024-09-06","v":32.5},{"d":"2024-09-07","v":32.8},{"d":"2024-09-08","v":38},{"d":"2024-09-09","v":45.5},{"d":"2024-09-10","v":50.6},{"d":"2024-09-11","v":48.4},{"d":"2024-09-12","v":51.7},{"d":"2024-09-13","v":54.9},{"d":"2024-09-14","v":53.2},{"d":"2024-09-15","v":50.9},{"d":"2024-09-16","v":49.1},{"d":"2024-09-17","v":49.9},{"d":"2024-09-18","v":52.8},{"d":"2024-09-19","v":53.5},{"d":"2024-09-20","v":51},{"d":"2024-09-21","v":53},{"d":"2024-09-22","v":51.6},{"d":"2024-09-23","v":52.3},{"d":"2024-09-24","v":51.6},{"d":"2024-09-25","v":54.6},{"d":"2024-09-26","v":56.4},{"d":"2024-09-27","v":60.7},{"d":"2024-09-28","v":57.4},{"d":"2024-09-29","v":56.1},{"d":"2024-09-30","v":50.6},
      {"d":"2024-10-01","v":42.6},{"d":"2024-10-02","v":40.4},{"d":"2024-10-03","v":41.9},{"d":"2024-10-04","v":44.3},{"d":"2024-10-05","v":40.1},{"d":"2024-10-06","v":43},{"d":"2024-10-07","v":40.1},{"d":"2024-10-08","v":40},{"d":"2024-10-09","v":36.7},{"d":"2024-10-10","v":39.7},{"d":"2024-10-11","v":42.9},{"d":"2024-10-12","v":44.1},{"d":"2024-10-13","v":42.6},{"d":"2024-10-14","v":47.7},{"d":"2024-10-15","v":44.8},{"d":"2024-10-16","v":44.5},{"d":"2024-10-17","v":43},{"d":"2024-10-18","v":45.9},{"d":"2024-10-19","v":47},{"d":"2024-10-20","v":51},{"d":"2024-10-21","v":44.3},{"d":"2024-10-22","v":45.5},{"d":"2024-10-23","v":42.6},{"d":"2024-10-24","v":42.2},{"d":"2024-10-25","v":31},{"d":"2024-10-26","v":38.3},{"d":"2024-10-27","v":41.2},{"d":"2024-10-28","v":42.6},{"d":"2024-10-29","v":42.6},{"d":"2024-10-30","v":41.9},{"d":"2024-10-31","v":36.8},
      {"d":"2024-11-01","v":39.3},{"d":"2024-11-02","v":39},{"d":"2024-11-03","v":36.8},{"d":"2024-11-04","v":32.8},{"d":"2024-11-05","v":31.7},{"d":"2024-11-06","v":39.3},{"d":"2024-11-07","v":45.2},{"d":"2024-11-08","v":46.2},{"d":"2024-11-09","v":59.3},{"d":"2024-11-10","v":60.4},{"d":"2024-11-11","v":66.5},{"d":"2024-11-12","v":64.8},{"d":"2024-11-13","v":55.7},{"d":"2024-11-14","v":54.6},{"d":"2024-11-15","v":59.3},{"d":"2024-11-16","v":66.5},{"d":"2024-11-17","v":56.1},{"d":"2024-11-18","v":61},{"d":"2024-11-19","v":57.1},{"d":"2024-11-20","v":51.3},{"d":"2024-11-21","v":57.1},{"d":"2024-11-22","v":55.7},{"d":"2024-11-23","v":70.9},{"d":"2024-11-24","v":66.2},{"d":"2024-11-25","v":63.9},{"d":"2024-11-26","v":64.6},{"d":"2024-11-27","v":68.3},{"d":"2024-11-28","v":69.1},{"d":"2024-11-29","v":69.4},{"d":"2024-11-30","v":74.5},
      {"d":"2024-12-01","v":74.8},{"d":"2024-12-02","v":65.8},{"d":"2024-12-03","v":68.7},{"d":"2024-12-04","v":70.9},{"d":"2024-12-05","v":67.2},{"d":"2024-12-06","v":66.43}
    ],
    "rsiMa": [
      {"d":"2024-03-02T12:00:00Z","v":58.6},{"d":"2024-03-05","v":60.4},{"d":"2024-03-08","v":66.5},{"d":"2024-03-10","v":70.1},{"d":"2024-03-12","v":74.5},{"d":"2024-03-14","v":75.8},{"d":"2024-03-18","v":73},{"d":"2024-03-22","v":73},{"d":"2024-03-25","v":73.5},{"d":"2024-03-28","v":70.4},{"d":"2024-04-01","v":71.6},{"d":"2024-04-04","v":70.1},{"d":"2024-04-08","v":68.3},{"d":"2024-04-11","v":70.4},{"d":"2024-04-15","v":67.7},{"d":"2024-04-18","v":67},{"d":"2024-04-21","v":64.3},{"d":"2024-04-23","v":60.4},{"d":"2024-04-25","v":55.2},{"d":"2024-04-29","v":50.9},{"d":"2024-05-02","v":47.7},{"d":"2024-05-05","v":47.2},{"d":"2024-05-08","v":48},{"d":"2024-05-11","v":52.5},{"d":"2024-05-14","v":57.8},{"d":"2024-05-16","v":60.4},{"d":"2024-05-19","v":60.3},{"d":"2024-05-22","v":60.4},{"d":"2024-05-24","v":58.6},{"d":"2024-05-27","v":55.2},{"d":"2024-05-30","v":53.5},{"d":"2024-06-01","v":52.5},{"d":"2024-06-04","v":54.4},{"d":"2024-06-06","v":57.1},{"d":"2024-06-09","v":58.6},{"d":"2024-06-12","v":59.3},{"d":"2024-06-15","v":62.9},{"d":"2024-06-17","v":62.2},{"d":"2024-06-20","v":58.6},{"d":"2024-06-23","v":57.5},{"d":"2024-06-27","v":57.1},{"d":"2024-06-29","v":55.2},{"d":"2024-07-01","v":54.6},{"d":"2024-07-03","v":56.4},{"d":"2024-07-06","v":55.7},{"d":"2024-07-11","v":52.3},{"d":"2024-07-15","v":50.6},{"d":"2024-07-17","v":48.7},{"d":"2024-07-22","v":48.7},{"d":"2024-07-25","v":46.5},{"d":"2024-07-29","v":42.6},{"d":"2024-08-01","v":40.7},{"d":"2024-08-05","v":35.8},{"d":"2024-08-07","v":34.6},{"d":"2024-08-10","v":37.5},{"d":"2024-08-15","v":40.7},{"d":"2024-08-18","v":45.5},{"d":"2024-08-20","v":50.1},{"d":"2024-08-23","v":50.9},{"d":"2024-08-28","v":46.5},{"d":"2024-08-31","v":44},{"d":"2024-09-03","v":39.3},{"d":"2024-09-06","v":35.8},{"d":"2024-09-08","v":35.8},{"d":"2024-09-12","v":39},{"d":"2024-09-16","v":43.3},{"d":"2024-09-19","v":48},{"d":"2024-09-21","v":50.9},{"d":"2024-09-25","v":52},{"d":"2024-09-30","v":53.8},{"d":"2024-10-05","v":50.1},{"d":"2024-10-09","v":47},{"d":"2024-10-13","v":42.2},{"d":"2024-10-18","v":42.6},{"d":"2024-10-23","v":44.5},{"d":"2024-10-26","v":43.3},{"d":"2024-10-30","v":42.9},{"d":"2024-11-02","v":41.6},{"d":"2024-11-06","v":38.3},{"d":"2024-11-08","v":39.3},{"d":"2024-11-12","v":45.9},{"d":"2024-11-15","v":48.4},{"d":"2024-11-19","v":56.7},{"d":"2024-11-23","v":60},{"d":"2024-11-26","v":60},{"d":"2024-11-28","v":61.9},{"d":"2024-12-01","v":64.6},{"d":"2024-12-03","v":65.8},{"d":"2024-12-06","v":68.37}
    ],
    "overbought": [
      {"d":"2024-03-10","v":70,"hump":"a"},{"d":"2024-03-11","v":83.2,"hump":"a"},{"d":"2024-03-12","v":88.6,"hump":"a"},{"d":"2024-03-13","v":89.7,"hump":"a"},{"d":"2024-03-14","v":78.1,"hump":"a"},{"d":"2024-03-15","v":72.3,"hump":"a"},{"d":"2024-03-15T06:00:00Z","v":70,"hump":"a"},
      {"d":"2024-03-21T21:00:00Z","v":70,"hump":"b"},{"d":"2024-03-22","v":70.9,"hump":"b"},{"d":"2024-03-23","v":75.2,"hump":"b"},{"d":"2024-03-24","v":77,"hump":"b"},{"d":"2024-03-25","v":79.1,"hump":"b"},{"d":"2024-03-26","v":72,"hump":"b"},{"d":"2024-03-27","v":70,"hump":"b"},
      {"d":"2024-04-07T12:00:00Z","v":70,"hump":"c"},{"d":"2024-04-08","v":75.2,"hump":"c"},{"d":"2024-04-09","v":77.4,"hump":"c"},{"d":"2024-04-10","v":78.1,"hump":"c"},{"d":"2024-04-11","v":81,"hump":"c"},{"d":"2024-04-11T22:00:00Z","v":70,"hump":"c"}
    ],
    "levels": [
      {"from":"2024-06-03","to":"2024-12-30","p":8.28},
      {"from":"2024-03-10","to":"2024-12-30","p":4.70},
      {"from":"2024-04-04","to":"2024-12-30","p":4.425}
    ],
    "lastPrice": [{"from":"2024-03-02T11:00:00Z","to":"2024-12-16","p":6.771}],
    "tags": [
      {"x1":"2024-12-16","x2":"2024-12-30","hi":6.869,"lo":6.653,"tone":"price"},
      {"x1":"2024-12-30","x2":"2025-01-14T06:00:00Z","hi":6.869,"lo":6.297,"tone":"price"},
      {"x1":"2024-12-22T12:00:00Z","x2":"2024-12-30","hi":6.297,"lo":6.084,"tone":"ema"},
      {"x1":"2024-12-30","x2":"2025-01-09T12:00:00Z","hi":6.297,"lo":6.084,"tone":"ema"},
      {"x1":"2024-12-18","x2":"2024-12-30","hi":5.636,"lo":5.42,"tone":"sma"},
      {"x1":"2024-12-30","x2":"2025-01-09T12:00:00Z","hi":5.636,"lo":5.42,"tone":"sma"},
      {"x1":"2024-12-30","x2":"2025-01-09T12:00:00Z","hi":4.81,"lo":4.593,"tone":"level"},
      {"x1":"2024-12-30","x2":"2025-01-09T12:00:00Z","hi":4.53,"lo":4.31,"tone":"level"},
      {"x1":"2024-12-30","x2":"2025-01-09T12:00:00Z","hi":8.19,"lo":8.165,"tone":"level"}
    ],
    "railText": [
      {"d":"2025-01-01T02:00:00Z","p":6.771,"t":"6.771","tone":"white"},
      {"d":"2025-01-01T02:00:00Z","p":6.589,"t":"+149.67%","tone":"white"},
      {"d":"2025-01-01T02:00:00Z","p":6.41,"t":"08:47:35","tone":"faded"},
      {"d":"2025-01-01T02:00:00Z","p":6.19,"t":"6.296","tone":"white"},
      {"d":"2025-01-01T02:00:00Z","p":5.528,"t":"5.535","tone":"white"},
      {"d":"2025-01-01T02:00:00Z","p":4.70,"t":"4.720","tone":"white"},
      {"d":"2025-01-01T02:00:00Z","p":4.42,"t":"4.440","tone":"white"}
    ],
    "sideText": [
      {"d":"2024-12-29","p":6.761,"t":"TONUSDT"},
      {"d":"2024-12-29","p":6.19,"t":"EMA"},
      {"d":"2024-12-29","p":5.528,"t":"SMA:MA"}
    ],
    "legendTop": [
      {"d":"2024-03-04T08:30:00Z","p":8.432,"t":"Toncoin/Tether, 1D, OKX","tone":"ink"},
      {"d":"2024-04-06T16:00:00Z","p":8.432,"t":"O","tone":"ink"},
      {"d":"2024-04-08T14:00:00Z","p":8.432,"t":"6.793","tone":"red"},
      {"d":"2024-04-17T11:00:00Z","p":8.432,"t":"H","tone":"ink"},
      {"d":"2024-04-19T03:00:00Z","p":8.432,"t":"6.954","tone":"red"},
      {"d":"2024-04-28","p":8.432,"t":"L","tone":"ink"},
      {"d":"2024-04-29T17:00:00Z","p":8.432,"t":"6.622","tone":"red"},
      {"d":"2024-05-08T13:00:00Z","p":8.432,"t":"C","tone":"ink"},
      {"d":"2024-05-10T05:00:00Z","p":8.432,"t":"6.771","tone":"red"},
      {"d":"2024-05-19T02:00:00Z","p":8.432,"t":"−0.022 (−0.32%)","tone":"red"},
      {"d":"2024-03-04T08:30:00Z","p":8.216,"t":"EMA (20, close)","tone":"ink"},
      {"d":"2024-03-25T22:00:00Z","p":8.216,"t":"6.296","tone":"blue"},
      {"d":"2024-03-04T08:30:00Z","p":8.0,"t":"SMA (50, close)","tone":"ink"},
      {"d":"2024-03-25T16:00:00Z","p":8.0,"t":"5.535","tone":"crimson"}
    ],
    "rsiTags": [
      {"x1":"2024-12-11T12:00:00Z","x2":"2024-12-30","hi":77.4,"lo":70.2,"tone":"ma"},
      {"x1":"2024-12-30","x2":"2025-01-09T12:00:00Z","hi":77.4,"lo":70.2,"tone":"ma"},
      {"x1":"2024-12-24T16:00:00Z","x2":"2024-12-30","hi":69.8,"lo":63,"tone":"rsi"},
      {"x1":"2024-12-30","x2":"2025-01-09T12:00:00Z","hi":69.8,"lo":63,"tone":"rsi"}
    ],
    "rsiTagText": [
      {"d":"2024-12-29","v":73.8,"t":"RSI-based MA","tone":"dark","side":"in"},
      {"d":"2024-12-29","v":66.4,"t":"RSI","tone":"white","side":"in"},
      {"d":"2025-01-01T02:00:00Z","v":73.8,"t":"68.37","tone":"dark","side":"rail"},
      {"d":"2025-01-01T02:00:00Z","v":66.4,"t":"66.43","tone":"white","side":"rail"}
    ],
    "legendRsi": [
      {"d":"2024-03-04T08:30:00Z","v":86.5,"t":"RSI (14, close)","tone":"ink"},
      {"d":"2024-03-24T12:00:00Z","v":86.5,"t":"66.43","tone":"rsi"},
      {"d":"2024-04-02T03:00:00Z","v":86.5,"t":"68.37","tone":"ma"},
      {"d":"2024-04-11","v":86.5,"t":"∅","tone":"ink"},
      {"d":"2024-04-14T20:00:00Z","v":86.5,"t":"∅","tone":"ink"},
      {"d":"2024-04-18T10:00:00Z","v":86.5,"t":"∅","tone":"ink"},
      {"d":"2024-04-22","v":86.5,"t":"∅","tone":"ink"}
    ],
    "bands": [{"from":"2024-03-02T11:00:00Z","to":"2024-12-29T22:00:00Z","hi":70,"lo":30}],
    "hlines": [
      {"from":"2024-03-02T11:00:00Z","to":"2024-12-29T22:00:00Z","v":70,"kind":"outer"},
      {"from":"2024-03-02T11:00:00Z","to":"2024-12-29T22:00:00Z","v":50,"kind":"mid"},
      {"from":"2024-03-02T11:00:00Z","to":"2024-12-29T22:00:00Z","v":30,"kind":"outer"}
    ]
  },
  "vconcat": [
    {
      "width": 1262,
      "height": 533,
      "resolve": {"scale": {"color": "independent"}},
      "layer": [
        {
          "data": {"values": [{"x1":"2024-03-02T11:00:00Z","x2":"2025-01-15T04:00:00Z","hi":8.623,"lo":1.848}]},
          "mark": {"type": "rect", "fill": null, "stroke": "#e0e3eb", "strokeWidth": 1},
          "encoding": {
            "x": {"field": "x1", "type": "temporal", "title": null, "scale": {"type": "utc", "padding": 0, "domain": [{"year":2024,"month":3,"date":2,"hours":11,"utc":true},{"year":2024,"month":12,"date":29,"hours":22,"utc":true}]},
              "axis": {"labels": false, "ticks": false, "domain": false, "grid": true, "gridColor": "#f0f3fa", "values": [{"year":2024,"month":4,"date":1,"utc":true},{"year":2024,"month":5,"date":1,"utc":true},{"year":2024,"month":6,"date":1,"utc":true},{"year":2024,"month":7,"date":1,"utc":true},{"year":2024,"month":8,"date":1,"utc":true},{"year":2024,"month":9,"date":1,"utc":true},{"year":2024,"month":10,"date":1,"utc":true},{"year":2024,"month":11,"date":1,"utc":true},{"year":2024,"month":12,"date":1,"utc":true},{"year":2024,"month":12,"date":23,"utc":true}]}},
            "x2": {"field": "x2"},
            "y": {"field": "hi", "type": "quantitative", "title": null, "scale": {"domain": [1.848, 8.623], "nice": false, "zero": false},
              "axis": {"orient": "right", "values": [2,2.5,3,3.5,4,4.5,5,6,7,7.5,8], "format": ".3f", "ticks": false, "labelPadding": 9, "labelFontSize": 12, "labelColor": "#131722", "domainColor": "#e0e3eb", "grid": true, "gridColor": "#f0f3fa"}},
            "y2": {"field": "lo"}
          }
        },
        {
          "data": {"values": [{"p":5.5},{"p":6.5}]},
          "mark": {"type": "rule", "color": "#f0f3fa", "strokeWidth": 1},
          "encoding": {
            "y": {"field": "p", "type": "quantitative", "title": null}
          }
        },
        {
          "data": {"name": "lastPrice"},
          "mark": {"type": "rule", "color": "#ef5350", "strokeWidth": 1, "strokeDash": [1, 3]},
          "encoding": {
            "x": {"field": "from", "type": "temporal", "title": null},
            "x2": {"field": "to"},
            "y": {"field": "p", "type": "quantitative", "title": null}
          }
        },
        {
          "data": {"name": "candles"},
          "mark": {"type": "rule", "strokeWidth": 1},
          "encoding": {
            "x": {"field": "d", "type": "temporal", "title": null},
            "y": {"field": "h", "type": "quantitative", "title": null},
            "y2": {"field": "l"},
            "color": {"condition": {"test": "datum.c >= datum.o", "value": "#26a69a"}, "value": "#ef5350"}
          }
        },
        {
          "data": {"name": "candles"},
          "mark": {"type": "bar", "size": 3, "orient": "vertical"},
          "encoding": {
            "x": {"field": "d", "type": "temporal", "title": null},
            "y": {"field": "o", "type": "quantitative", "title": null},
            "y2": {"field": "c"},
            "color": {"condition": {"test": "datum.c >= datum.o", "value": "#26a69a"}, "value": "#ef5350"}
          }
        },
        {
          "data": {"name": "sma"},
          "mark": {"type": "line", "color": "#f23645", "strokeWidth": 3, "interpolate": "monotone"},
          "encoding": {
            "x": {"field": "d", "type": "temporal", "title": null},
            "y": {"field": "v", "type": "quantitative", "title": null}
          }
        },
        {
          "data": {"name": "ema"},
          "mark": {"type": "line", "color": "#2962ff", "strokeWidth": 3, "interpolate": "monotone"},
          "encoding": {
            "x": {"field": "d", "type": "temporal", "title": null},
            "y": {"field": "v", "type": "quantitative", "title": null}
          }
        },
        {
          "data": {"name": "levels"},
          "mark": {"type": "rule", "color": "#0000ff", "strokeWidth": 3, "strokeDash": [15, 18]},
          "encoding": {
            "x": {"field": "from", "type": "temporal", "title": null},
            "x2": {"field": "to"},
            "y": {"field": "p", "type": "quantitative", "title": null}
          }
        },
        {
          "data": {"name": "tags"},
          "mark": {"type": "rect", "cornerRadius": 2},
          "encoding": {
            "x": {"field": "x1", "type": "temporal", "title": null},
            "x2": {"field": "x2"},
            "y": {"field": "hi", "type": "quantitative", "title": null},
            "y2": {"field": "lo"},
            "color": {"field": "tone", "type": "nominal", "legend": null, "scale": {"domain": ["price","ema","sma","level"], "range": ["#ef5350","#2962ff","#f23645","#0000ff"]}}
          }
        },
        {
          "data": {"values": [{"x1":"2024-12-30T22:00:00Z","x2":"2025-01-14T06:00:00Z","hi":8.572,"lo":8.242}]},
          "mark": {"type": "rect", "fill": "#ffffff", "stroke": "#e0e3eb", "strokeWidth": 1, "cornerRadius": 5},
          "encoding": {
            "x": {"field": "x1", "type": "temporal", "title": null},
            "x2": {"field": "x2"},
            "y": {"field": "hi", "type": "quantitative", "title": null},
            "y2": {"field": "lo"}
          }
        },
        {
          "data": {"values": [{"d":"2025-01-05T22:00:00Z","p":8.407,"t":"USDT"}]},
          "mark": {"type": "text", "fontSize": 12, "align": "center", "baseline": "middle", "color": "#131722"},
          "encoding": {
            "x": {"field": "d", "type": "temporal", "title": null},
            "y": {"field": "p", "type": "quantitative", "title": null},
            "text": {"field": "t"}
          }
        },
        {
          "data": {"name": "railText"},
          "mark": {"type": "text", "fontSize": 11.5, "align": "left", "baseline": "middle"},
          "encoding": {
            "x": {"field": "d", "type": "temporal", "title": null},
            "y": {"field": "p", "type": "quantitative", "title": null},
            "text": {"field": "t"},
            "color": {"field": "tone", "type": "nominal", "legend": null, "scale": {"domain": ["white","faded"], "range": ["#ffffff","#fbc4c3"]}}
          }
        },
        {
          "data": {"name": "sideText"},
          "mark": {"type": "text", "fontSize": 11, "align": "right", "baseline": "middle", "color": "#ffffff"},
          "encoding": {
            "x": {"field": "d", "type": "temporal", "title": null},
            "y": {"field": "p", "type": "quantitative", "title": null},
            "text": {"field": "t"}
          }
        },
        {
          "data": {"name": "legendTop"},
          "mark": {"type": "text", "fontSize": 12, "align": "left", "baseline": "middle"},
          "encoding": {
            "x": {"field": "d", "type": "temporal", "title": null},
            "y": {"field": "p", "type": "quantitative", "title": null},
            "text": {"field": "t"},
            "color": {"field": "tone", "type": "nominal", "legend": null, "scale": {"domain": ["ink","red","blue","crimson"], "range": ["#131722","#ef5350","#2962ff","#f23645"]}}
          }
        },
        {
          "data": {"values": [{"d":"2024-12-06T05:00:00Z","p":2.0}]},
          "mark": {"type": "point", "shape": "circle", "size": 380, "filled": false, "stroke": "#9c27b0", "strokeWidth": 1.5},
          "encoding": {
            "x": {"field": "d", "type": "temporal", "title": null},
            "y": {"field": "p", "type": "quantitative", "title": null}
          }
        },
        {
          "data": {"values": [{"d":"2024-12-06T05:00:00Z","p":2.0,"t":"⚡"}]},
          "mark": {"type": "text", "fontSize": 13, "align": "center", "baseline": "middle", "color": "#f23645", "font": "DejaVu Sans"},
          "encoding": {
            "x": {"field": "d", "type": "temporal", "title": null},
            "y": {"field": "p", "type": "quantitative", "title": null},
            "text": {"field": "t"}
          }
        }
      ]
    },
    {
      "width": 1262,
      "height": 176,
      "resolve": {"scale": {"color": "independent"}},
      "layer": [
        {
          "data": {"values": [{"x1":"2024-03-02T11:00:00Z","x2":"2025-01-15T04:00:00Z","hi":93.04,"lo":4.8}]},
          "mark": {"type": "rect", "fill": null, "stroke": "#e0e3eb", "strokeWidth": 1},
          "encoding": {
            "x": {"field": "x1", "type": "temporal", "title": null, "scale": {"type": "utc", "domain": [{"year":2024,"month":3,"date":2,"hours":11,"utc":true},{"year":2024,"month":12,"date":29,"hours":22,"utc":true}]},
              "axis": {"ticks": false, "domainColor": "#e0e3eb", "grid": true, "gridColor": "#f0f3fa", "labelPadding": 9, "labelFontSize": 12, "labelColor": "#131722", "labelExpr": "utcFormat(datum.value, '%m') == '08' ? '' : utcFormat(datum.value, '%d') == '23' ? '23' : utcFormat(datum.value, '%b')", "values": [{"year":2024,"month":4,"date":1,"utc":true},{"year":2024,"month":5,"date":1,"utc":true},{"year":2024,"month":6,"date":1,"utc":true},{"year":2024,"month":7,"date":1,"utc":true},{"year":2024,"month":8,"date":1,"utc":true},{"year":2024,"month":9,"date":1,"utc":true},{"year":2024,"month":10,"date":1,"utc":true},{"year":2024,"month":11,"date":1,"utc":true},{"year":2024,"month":12,"date":1,"utc":true},{"year":2024,"month":12,"date":23,"utc":true}]}},
            "x2": {"field": "x2"},
            "y": {"field": "hi", "type": "quantitative", "title": null, "scale": {"domain": [16.52, 93.04], "nice": false, "zero": false},
              "axis": {"orient": "right", "values": [20,40,60,80], "format": ".2f", "ticks": false, "labelPadding": 9, "labelFontSize": 12, "labelColor": "#131722", "domainColor": "#e0e3eb", "grid": true, "gridColor": "#f0f3fa"}},
            "y2": {"field": "lo"}
          }
        },
        {
          "data": {"name": "bands"},
          "mark": {"type": "rect", "color": "#7e57c2", "opacity": 0.1},
          "encoding": {
            "x": {"field": "from", "type": "temporal", "title": null},
            "x2": {"field": "to"},
            "y": {"field": "hi", "type": "quantitative", "title": null},
            "y2": {"field": "lo"}
          }
        },
        {
          "data": {"name": "hlines"},
          "mark": {"type": "rule", "strokeWidth": 1, "strokeDash": [5, 5]},
          "encoding": {
            "x": {"field": "from", "type": "temporal", "title": null},
            "x2": {"field": "to"},
            "y": {"field": "v", "type": "quantitative", "title": null},
            "color": {"field": "kind", "type": "nominal", "legend": null, "scale": {"domain": ["outer","mid"], "range": ["#787b86","#b2b5be"]}}
          }
        },
        {
          "data": {"name": "overbought"},
          "mark": {"type": "area", "opacity": 0.6, "color": {"gradient": "linear", "x1": 1, "y1": 0, "x2": 1, "y2": 1, "stops": [{"offset": 0, "color": "#66bb6a"}, {"offset": 1, "color": "#ffffff"}]}},
          "encoding": {
            "x": {"field": "d", "type": "temporal", "title": null},
            "y": {"field": "v", "type": "quantitative", "title": null},
            "y2": {"datum": 70},
            "detail": {"field": "hump"}
          }
        },
        {
          "data": {"name": "rsiMa"},
          "mark": {"type": "line", "color": "#ffe93b", "strokeWidth": 1, "interpolate": "monotone"},
          "encoding": {
            "x": {"field": "d", "type": "temporal", "title": null},
            "y": {"field": "v", "type": "quantitative", "title": null}
          }
        },
        {
          "data": {"name": "rsi"},
          "mark": {"type": "line", "color": "#7e57c2", "strokeWidth": 2.5},
          "encoding": {
            "x": {"field": "d", "type": "temporal", "title": null},
            "y": {"field": "v", "type": "quantitative", "title": null}
          }
        },
        {
          "data": {"name": "rsiTags"},
          "mark": {"type": "rect", "cornerRadius": 2},
          "encoding": {
            "x": {"field": "x1", "type": "temporal", "title": null},
            "x2": {"field": "x2"},
            "y": {"field": "hi", "type": "quantitative", "title": null},
            "y2": {"field": "lo"},
            "color": {"field": "tone", "type": "nominal", "legend": null, "scale": {"domain": ["ma","rsi"], "range": ["#ffeb3b","#7e57c2"]}}
          }
        },
        {
          "data": {"name": "rsiTagText"},
          "transform": [{"filter": "datum.side == 'in'"}],
          "mark": {"type": "text", "fontSize": 11, "align": "right", "baseline": "middle"},
          "encoding": {
            "x": {"field": "d", "type": "temporal", "title": null},
            "y": {"field": "v", "type": "quantitative", "title": null},
            "text": {"field": "t"},
            "color": {"field": "tone", "type": "nominal", "legend": null, "scale": {"domain": ["dark","white"], "range": ["#131722","#ffffff"]}}
          }
        },
        {
          "data": {"name": "rsiTagText"},
          "transform": [{"filter": "datum.side == 'rail'"}],
          "mark": {"type": "text", "fontSize": 11.5, "align": "left", "baseline": "middle"},
          "encoding": {
            "x": {"field": "d", "type": "temporal", "title": null},
            "y": {"field": "v", "type": "quantitative", "title": null},
            "text": {"field": "t"},
            "color": {"field": "tone", "type": "nominal", "legend": null, "scale": {"domain": ["dark","white"], "range": ["#131722","#ffffff"]}}
          }
        },
        {
          "data": {"name": "legendRsi"},
          "mark": {"type": "text", "fontSize": 12, "align": "left", "baseline": "middle"},
          "encoding": {
            "x": {"field": "d", "type": "temporal", "title": null},
            "y": {"field": "v", "type": "quantitative", "title": null},
            "text": {"field": "t"},
            "color": {"field": "tone", "type": "nominal", "legend": null, "scale": {"domain": ["ink","rsi","ma"], "range": ["#131722","#7e57c2","#ffeb3b"]}}
          }
        },
        {
          "data": {"values": [{"d":"2024-07-28T08:00:00Z","v":20}]},
          "mark": {"type": "point", "shape": "circle", "size": 3300, "filled": true, "fill": "#ffffff", "stroke": "#1f5f6b", "strokeWidth": 3, "opacity": 1},
          "encoding": {
            "x": {"field": "d", "type": "temporal", "title": null},
            "y": {"field": "v", "type": "quantitative", "title": null}
          }
        },
        {
          "data": {"values": [{"d":"2024-07-28T08:00:00Z","v":20}]},
          "mark": {"type": "point", "shape": "circle", "size": 2400, "filled": false, "stroke": "#c8963e", "strokeWidth": 3, "strokeDash": [2, 3], "opacity": 1},
          "encoding": {
            "x": {"field": "d", "type": "temporal", "title": null},
            "y": {"field": "v", "type": "quantitative", "title": null}
          }
        },
        {
          "data": {"values": [{"d":"2024-07-28T08:00:00Z","v":20,"t":"₿"}]},
          "mark": {"type": "text", "fontSize": 42, "fontWeight": "bold", "align": "center", "baseline": "middle", "color": "#1f5f6b", "font": "DejaVu Sans"},
          "encoding": {
            "x": {"field": "d", "type": "temporal", "title": null},
            "y": {"field": "v", "type": "quantitative", "title": null},
            "text": {"field": "t"}
          }
        },
        {
          "data": {"values": [{"d":"2024-08-01","v":10,"t":"Aug"}]},
          "mark": {"type": "text", "fontSize": 12, "align": "center", "baseline": "middle", "color": "#131722", "opacity": 0.7},
          "encoding": {
            "x": {"field": "d", "type": "temporal", "title": null},
            "y": {"field": "v", "type": "quantitative", "title": null},
            "text": {"field": "t"}
          }
        },
        {
          "data": {"values": [{"d":"2024-07-28T12:00:00Z","v":0.43,"t":"مجله ارز دیجیتال"}]},
          "mark": {"type": "text", "fontSize": 12, "fontWeight": "bold", "align": "center", "baseline": "middle", "color": "#17313b", "font": "DejaVu Sans"},
          "encoding": {
            "x": {"field": "d", "type": "temporal", "title": null},
            "y": {"field": "v", "type": "quantitative", "title": null},
            "text": {"field": "t"}
          }
        },
        {
          "data": {"values": [{"d":"2024-03-02T18:00:00Z","v":-3.5,"t":"17"},{"d":"2024-03-08","v":-3.5,"t":"TradingView"}]},
          "mark": {"type": "text", "fontSize": 13, "fontWeight": "bold", "align": "left", "baseline": "middle", "color": "#131722"},
          "encoding": {
            "x": {"field": "d", "type": "temporal", "title": null},
            "y": {"field": "v", "type": "quantitative", "title": null},
            "text": {"field": "t"}
          }
        }
      ]
    }
  ]
}
